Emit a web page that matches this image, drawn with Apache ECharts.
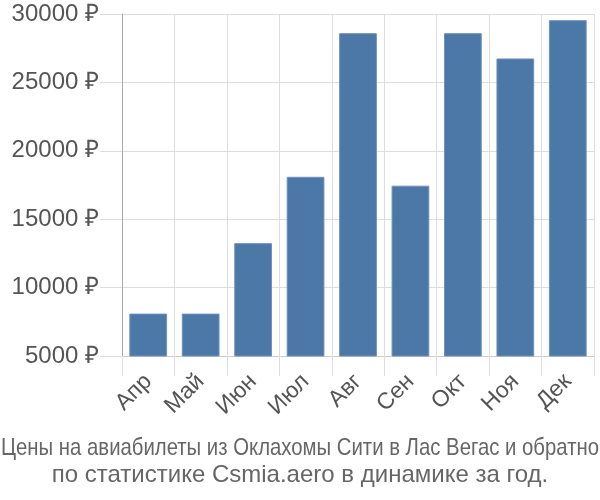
<!DOCTYPE html>
<html><head><meta charset="utf-8">
<script src="https://cdn.jsdelivr.net/npm/echarts@6/dist/echarts.min.js"></script>
<style>html,body{margin:0;padding:0;background:#fff}#c{width:600px;height:500px}</style>
</head><body><div id="c"></div>
<script>
const months = ['Апр','Май','Июн','Июл','Авг','Сен','Окт','Ноя','Дек'];
const prices = [8100, 8100, 13250, 18100, 28600, 17450, 28600, 26750, 29550];
const titleLines = ['Цены на авиабилеты из Оклахомы Сити в Лас Вегас и обратно','по статистике Csmia.aero в динамике за год.'];

const FONT = '"Liberation Sans", Arial, sans-serif';
const titleSize = 24;
function textWidth(t, size){
  const cv = document.createElement('canvas').getContext('2d');
  cv.font = size + 'px ' + FONT;
  return cv.measureText(t).width;
}
const w1 = textWidth(titleLines[0], titleSize);
const sx1 = Math.min(1, 598 / w1);

const chart = echarts.init(document.getElementById('c'), null, {renderer:'canvas'});
chart.setOption({
  animation:false,
  textStyle:{fontFamily:FONT},
  graphic:[
    {type:'text', x:300, y:448, scaleX:sx1, originX:0, originY:0,
     style:{text:titleLines[0], font: titleSize+'px '+FONT, fill:'#666', textAlign:'center', textVerticalAlign:'middle'}},
    {type:'text', x:300, y:475,
     style:{text:titleLines[1], font: titleSize+'px '+FONT, fill:'#666', textAlign:'center', textVerticalAlign:'middle'}}
  ],
  grid:{left:122, right:6, top:14, bottom:144, containLabel:false},
  xAxis:{
    type:'category', data:months, boundaryGap:true,
    axisLine:{show:true, lineStyle:{color:'#ccc'}},
    axisTick:{show:true, length:20, alignWithLabel:false, lineStyle:{color:'#ddd', width:1}},
    splitLine:{show:true, lineStyle:{color:'#ddd', width:1}},
    axisLabel:{rotate:45, fontSize:23, color:'#555', margin:22, interval:0}
  },
  yAxis:{
    type:'value', min:5000, max:30000, interval:5000,
    axisLine:{show:true, lineStyle:{color:'#aaa'}},
    axisTick:{show:true, length:22, lineStyle:{color:'#ddd'}},
    splitLine:{show:true, lineStyle:{color:'#ddd'}},
    axisLabel:{fontSize:24, color:'#555', margin:23, formatter: v => v + ' ₽'}
  },
  series:[{
    type:'bar', data:prices, barWidth:'72%',
    itemStyle:{color:'#4c78a8', borderColor:'#6f92bd', borderWidth:1}
  }]
});
</script></body></html>
